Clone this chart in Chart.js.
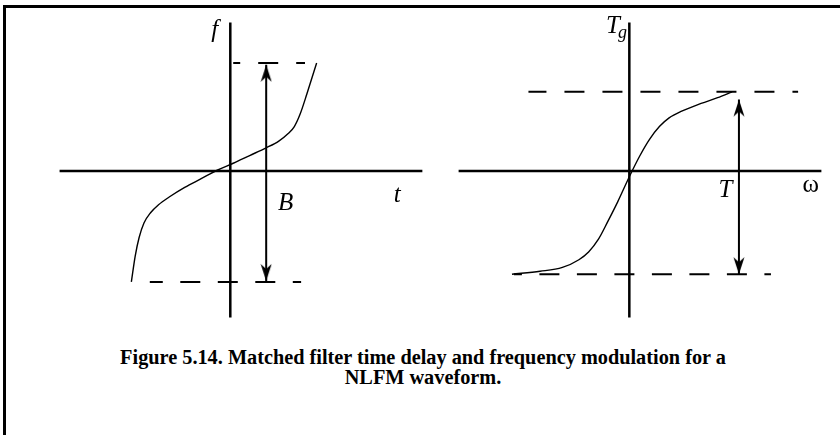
<!DOCTYPE html>
<html>
<head>
<meta charset="utf-8">
<script src="https://cdn.jsdelivr.net/npm/chart.js@4.4.1/dist/chart.umd.min.js"></script>
<style>
  body { margin: 0; background: #fff; width: 840px; height: 435px; overflow: hidden; position: relative; }
  #frame { position: absolute; left: 3px; top: 5px; width: 860px; height: 450px;
           border-left: 3px solid #000; border-top: 3px solid #000; }
  .panel { position: absolute; top: 0; }
  #left { left: 40px; }
  #right { left: 440px; }
  #caption { position: absolute; left: 0; width: 846px; top: 347px; text-align: center;
             font: bold 20.3px "Liberation Serif", "Times New Roman", serif; line-height: 20px; }
</style>
</head>
<body>
<div id="frame"></div>
<canvas id="left" class="panel" width="400" height="340"></canvas>
<canvas id="right" class="panel" width="400" height="340"></canvas>
<div id="caption">Figure 5.14. Matched filter time delay and frequency modulation for a<br>NLFM waveform.</div>

<script>
// left panel: instantaneous frequency f(t) of the NLFM pulse
var tValues = [-1.02, -0.98, -0.94, -0.89, -0.82, -0.74, -0.63, -0.47, -0.30, -0.13, 0.03, 0.20, 0.37, 0.50, 0.60, 0.66, 0.72, 0.79, 0.89]
var fValues = [-1.15, -0.88, -0.69, -0.54, -0.43, -0.35, -0.27, -0.17, -0.08, 0.01, 0.08, 0.16, 0.24, 0.31, 0.39, 0.46, 0.59, 0.80, 1.12]
var fBand = [1.12, -1.15]          // upper / lower edge of bandwidth B
var fBandFrom = [0.03, -0.83]      // t where each dashed edge starts
var fBandTo = [0.77, 0.73]         // t where each dashed edge ends
var bArrow = [0.37, 1.10, -1.14]   // t, top tip, bottom tip

// right panel: group delay Tg(w) of the matched filter
var wValues = [-1.21, -0.92, -0.69, -0.52, -0.42, -0.32, -0.22, -0.12, 0.00, 0.11, 0.21, 0.31, 0.41, 0.54, 0.74, 0.91, 1.06]
var tgValues = [-1.07, -1.04, -1.00, -0.92, -0.84, -0.71, -0.52, -0.32, -0.06, 0.16, 0.33, 0.46, 0.55, 0.62, 0.70, 0.76, 0.82]
var tgLevels = [0.82, -1.07]
var tgLevelFrom = [-1.04, -1.19]
var tgLevelTo = [1.74, 1.46]
var tArrow = [1.13, 0.74, -1.07]

// axis extents (same frame for both panels)
var hAxis = [-1.76, 1.98]
var vAxis = [1.54, -1.52]

function pairs(xs, ys) {
    return xs.map(function (x, i) { return { x: x, y: ys[i] } })
}

// arrow head image, tip sits in the middle so it lands on the data point
function arrowHead() {
    var c = document.createElement('canvas')
    c.width = 12
    c.height = 36
    var g = c.getContext('2d')
    g.fillStyle = '#000'
    g.beginPath()
    g.moveTo(6, 18)
    g.lineTo(11.5, 35)
    g.lineTo(6, 30)
    g.lineTo(0.5, 35)
    g.closePath()
    g.fill()
    return c
}
var head = arrowHead()

var line = {
    showLine: true,
    pointRadius: 0,
    borderColor: '#000',
    borderWidth: 2.5,
    clip: false
}

var labelsPlugin = {
    id: 'labels',
    afterDatasetsDraw: function (chart) {
        var ctx = chart.ctx
        var xs = chart.scales.x, ys = chart.scales.y
        chart.config.options.labelItems.forEach(function (it) {
            ctx.save()
            ctx.font = it.font
            ctx.fillStyle = '#000'
            ctx.textAlign = 'center'
            ctx.textBaseline = 'alphabetic'
            ctx.fillText(it.text, xs.getPixelForValue(it.x), ys.getPixelForValue(it.y))
            ctx.restore()
        })
    }
}

function panel(id, curveX, curveY, levels, from, to, arrow, xMin, offsets, labels) {
    new Chart(document.getElementById(id).getContext('2d'), {
        type: 'scatter',
        data: {
            datasets: [
                { data: [{ x: hAxis[0], y: 0 }, { x: hAxis[1], y: 0 }], ...line },
                { data: [{ x: 0, y: vAxis[0] }, { x: 0, y: vAxis[1] }], ...line },
                {
                    data: [{ x: from[0], y: levels[0] }, { x: to[0], y: levels[0] }],
                    ...line, borderWidth: 2, borderDash: [20, 18], borderDashOffset: offsets[0]
                },
                {
                    data: [{ x: from[1], y: levels[1] }, { x: to[1], y: levels[1] }],
                    ...line, borderWidth: 2, borderDash: [20, 17.5], borderDashOffset: offsets[1]
                },
                {
                    data: [{ x: arrow[0], y: arrow[1] }, { x: arrow[0], y: arrow[2] }],
                    ...line, borderWidth: 2,
                    pointRadius: 1,
                    pointStyle: [head, head],
                    rotation: [0, 180]
                },
                {
                    data: pairs(curveX, curveY),
                    ...line, borderWidth: 1.4,
                    cubicInterpolationMode: 'monotone'
                }
            ]
        },
        options: {
            responsive: false,
            animation: false,
            events: [],
            layout: { padding: 0 },
            labelItems: labels,
            plugins: { legend: { display: false }, tooltip: { enabled: false } },
            scales: {
                x: { type: 'linear', display: false, min: xMin, max: xMin + 4 },
                y: { type: 'linear', display: false, min: -1.69, max: 1.71 }
            }
        },
        plugins: [labelsPlugin]
    })
}

var serifIt = 'italic 25px "Liberation Serif", "Times New Roman", serif'

panel('left', tValues, fValues, fBand, fBandFrom, fBandTo, bArrow, -1.9, [13, 7], [
    { text: 'f', x: -0.16, y: 1.39, font: serifIt },
    { text: 't', x: 1.72, y: -0.32, font: serifIt },
    { text: 'B', x: 0.57, y: -0.40, font: serifIt }
])

panel('right', wValues, tgValues, tgLevels, tgLevelFrom, tgLevelTo, tArrow, -1.89, [2, 12], [
    { text: 'T', x: -0.17, y: 1.43, font: serifIt },
    { text: 'g', x: -0.07, y: 1.38, font: 'italic 18px "Liberation Serif", "Times New Roman", serif' },
    { text: 'T', x: 0.99, y: -0.27, font: serifIt },
    { text: '\u03c9', x: 1.87, y: -0.22, font: '25px "Liberation Serif", "Times New Roman", serif' }
])
</script>
</body>
</html>
